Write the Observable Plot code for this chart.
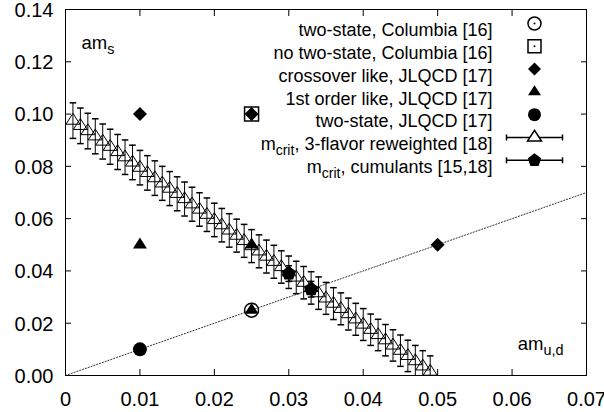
<!DOCTYPE html>
<html>
<head>
<meta charset="utf-8">
<script src="https://cdn.jsdelivr.net/npm/d3@7"></script>
<script src="https://cdn.jsdelivr.net/npm/@observablehq/plot@0.6"></script>
<style>
  html, body { margin: 0; padding: 0; background: #fff; }
</style>
</head>
<body>
<div id="chart"></div>
<script>
// Columbia [16]
const columbiaTwoStateX = [0.025];
const columbiaTwoStateY = [0.025];
const columbiaNoTwoStateX = [0.025];
const columbiaNoTwoStateY = [0.10];

// JLQCD [17]
const jlqcdCrossoverX = [0.01, 0.025, 0.05];
const jlqcdCrossoverY = [0.10, 0.10, 0.05];
const jlqcdFirstOrderX = [0.01, 0.025, 0.025];
const jlqcdFirstOrderY = [0.05, 0.05, 0.025];
const jlqcdTwoStateX = [0.01];
const jlqcdTwoStateY = [0.01];

// m_crit, 3-flavor reweighted [18]
const reweightedX = [
  0.001, 0.002, 0.003, 0.004, 0.005, 0.006, 0.007, 0.008, 0.009, 0.010,
  0.011, 0.012, 0.013, 0.014, 0.015, 0.016, 0.017, 0.018, 0.019, 0.020,
  0.021, 0.022, 0.023, 0.024, 0.025, 0.026, 0.027, 0.028, 0.029, 0.030,
  0.031, 0.032, 0.033, 0.034, 0.035, 0.036, 0.037, 0.038, 0.039, 0.040,
  0.041, 0.042, 0.043, 0.044, 0.045, 0.046, 0.047, 0.048, 0.049
];
const reweightedY = [
  0.0975, 0.0955, 0.0935, 0.0915, 0.0895, 0.0875, 0.0855, 0.0835, 0.0815, 0.0795,
  0.0775, 0.0755, 0.0735, 0.0715, 0.0695, 0.0675, 0.0655, 0.0635, 0.0615, 0.0595,
  0.0575, 0.0555, 0.0535, 0.0515, 0.0495, 0.0475, 0.0455, 0.0435, 0.0415, 0.0395,
  0.0375, 0.0355, 0.0335, 0.0315, 0.0295, 0.0275, 0.0255, 0.0235, 0.0215, 0.0195,
  0.0175, 0.0155, 0.0135, 0.0115, 0.0095, 0.0075, 0.0055, 0.0035, 0.0015
];
const reweightedErr = [
  0.0068, 0.0068, 0.0068, 0.0067, 0.0067, 0.0067, 0.0067, 0.0066, 0.0066, 0.0066,
  0.0066, 0.0066, 0.0065, 0.0065, 0.0065, 0.0065, 0.0065, 0.0064, 0.0064, 0.0064,
  0.0064, 0.0064, 0.0063, 0.0063, 0.0063, 0.0063, 0.0063, 0.0063, 0.0062, 0.0062,
  0.0062, 0.0062, 0.0062, 0.0062, 0.0061, 0.0061, 0.0061, 0.0061, 0.0061, 0.0061,
  0.0060, 0.0060, 0.0060, 0.0060, 0.0060, 0.0060, 0.0060, 0.0060, 0.0060
];

// m_crit, cumulants [15,18]
const cumulantsX = [0.030, 0.033];
const cumulantsY = [0.039, 0.033];
const cumulantsErr = [0.003, 0.003];

// m_s = m_u,d line
const symmetricLine = [0, 0.07];

// Axes
const xTicks = [0, 0.01, 0.02, 0.03, 0.04, 0.05, 0.06, 0.07];
const xTickLabels = ["0", "0.01", "0.02", "0.03", "0.04", "0.05", "0.06", "0.07"];
const yTicks = [0, 0.02, 0.04, 0.06, 0.08, 0.10, 0.12, 0.14];
const yTickLabels = ["0.00", "0.02", "0.04", "0.06", "0.08", "0.10", "0.12", "0.14"];

const legendLabels = [
  "two-state, Columbia [16]",
  "no two-state, Columbia [16]",
  "crossover like, JLQCD [17]",
  "1st order like, JLQCD [17]",
  "two-state, JLQCD [17]",
  "m_{crit}, 3-flavor reweighted [18]",
  "m_{crit}, cumulants [15,18]"
];

// ---- point symbols (gnuplot-like); r is recovered from Plot's size = r²π
const rOf = size => Math.sqrt(size / Math.PI);
const triangle = {draw(ctx, size) {
  const r = rOf(size), h = 1.55 * r;
  ctx.moveTo(0, -h * 2 / 3); ctx.lineTo(r, h / 3); ctx.lineTo(-r, h / 3); ctx.closePath();
}};
const diamond = {draw(ctx, size) {
  const r = rOf(size);
  ctx.moveTo(0, -r); ctx.lineTo(r, 0); ctx.lineTo(0, r); ctx.lineTo(-r, 0); ctx.closePath();
}};
const square = {draw(ctx, size) {
  const r = rOf(size);
  ctx.moveTo(-r, -r); ctx.lineTo(r, -r); ctx.lineTo(r, r); ctx.lineTo(-r, r); ctx.closePath();
}};
const pentagon = {draw(ctx, size) {
  const r = rOf(size);
  for (let k = 0; k < 5; ++k) {
    const a = -Math.PI / 2 + k * 2 * Math.PI / 5;
    k ? ctx.lineTo(r * Math.cos(a), r * Math.sin(a)) : ctx.moveTo(r * Math.cos(a), r * Math.sin(a));
  }
  ctx.closePath();
}};
const hline = {draw(ctx, size) { const r = rOf(size); ctx.moveTo(-r, 0); ctx.lineTo(r, 0); }};
const vline = {draw(ctx, size) { const r = rOf(size); ctx.moveTo(0, -r); ctx.lineTo(0, r); }};

const zip = (xs, ys, es) => xs.map((x, i) => ({x, y: ys[i], e: es ? es[i] : 0}));
const columbiaTwoState = zip(columbiaTwoStateX, columbiaTwoStateY);
const columbiaNoTwoState = zip(columbiaNoTwoStateX, columbiaNoTwoStateY);
const jlqcdCrossover = zip(jlqcdCrossoverX, jlqcdCrossoverY);
const jlqcdFirstOrder = zip(jlqcdFirstOrderX, jlqcdFirstOrderY);
const jlqcdTwoState = zip(jlqcdTwoStateX, jlqcdTwoStateY);
const reweighted = zip(reweightedX, reweightedY, reweightedErr);
const cumulants = zip(cumulantsX, cumulantsY, cumulantsErr);
const diagonal = symmetricLine.map(v => ({x: v, y: v}));

const black = "black";
const errorBars = (data, capR) => [
  Plot.ruleX(data, {x: "x", y1: d => d.y - d.e, y2: d => d.y + d.e, stroke: black, strokeWidth: 1, clip: true}),
  Plot.dot(data, {x: "x", y: d => d.y + d.e, symbol: hline, r: capR, stroke: black, fill: "none", clip: true}),
  Plot.dot(data, {x: "x", y: d => d.y - d.e, symbol: hline, r: capR, stroke: black, fill: "none", clip: true})
];

// Legend rows, anchored to the top-right corner of the frame
const legendTextDx = -94, legendSymDx = -52, legendTop = 14, legendStep = 22.8;
const rowDy = i => legendTop + i * legendStep;
const legendSym = (i, opts) => Plot.dot([0], {frameAnchor: "top-right", dx: legendSymDx, dy: rowDy(i), ...opts});
const legendBar = i => [
  legendSym(i, {symbol: hline, r: 28, stroke: black, fill: "none"}),
  Plot.dot([0], {frameAnchor: "top-right", dx: legendSymDx - 28, dy: rowDy(i), symbol: vline, r: 3, stroke: black, fill: "none"}),
  Plot.dot([0], {frameAnchor: "top-right", dx: legendSymDx + 28, dy: rowDy(i), symbol: vline, r: 3, stroke: black, fill: "none"})
];
const legendMarks = [
  ...legendLabels.map((label, i) => Plot.text([label], {
    text: d => d, frameAnchor: "top-right", dx: legendTextDx, dy: rowDy(i),
    textAnchor: "end", fontSize: 18
  })),
  legendSym(0, {r: 6.5, stroke: black, fill: "none"}),
  legendSym(0, {r: 1, fill: black}),
  legendSym(1, {symbol: square, r: 6.5, stroke: black, fill: "none"}),
  legendSym(1, {r: 1, fill: black}),
  legendSym(2, {symbol: diamond, r: 6.5, fill: black}),
  legendSym(3, {symbol: triangle, r: 6.5, fill: black}),
  legendSym(4, {r: 6.5, fill: black}),
  ...legendBar(5),
  legendSym(5, {symbol: triangle, r: 7, stroke: black, fill: "white"}),
  ...legendBar(6),
  legendSym(6, {symbol: pentagon, r: 7, fill: black})
];

const chart = Plot.plot({
  width: 604,
  height: 412,
  marginLeft: 65,
  marginRight: 18,
  marginTop: 9,
  marginBottom: 37,
  style: {fontFamily: "'Liberation Sans', Arial, Helvetica, sans-serif", fontSize: "20px", background: "white", color: "black"},
  x: {domain: [0, 0.07]},
  y: {domain: [0, 0.14]},
  marks: [
    // m_s = m_u,d
    Plot.line(diagonal, {x: "x", y: "y", stroke: "#333", strokeWidth: 1, strokeDasharray: "1.2,1.8", clip: true}),

    // m_crit, 3-flavor reweighted
    ...errorBars(reweighted, 3.3),
    Plot.dot(reweighted, {x: "x", y: "y", symbol: triangle, r: 7, stroke: black, strokeWidth: 1, fill: "none", clip: true}),

    // m_crit, cumulants
    ...errorBars(cumulants, 3.3),
    Plot.dot(cumulants, {x: "x", y: "y", symbol: pentagon, r: 7.5, fill: black}),

    // Columbia
    Plot.dot(columbiaTwoState, {x: "x", y: "y", r: 7, stroke: black, fill: "none"}),
    Plot.dot(columbiaTwoState, {x: "x", y: "y", r: 1, fill: black}),
    Plot.dot(columbiaNoTwoState, {x: "x", y: "y", symbol: square, r: 7, stroke: black, fill: "none"}),
    Plot.dot(columbiaNoTwoState, {x: "x", y: "y", r: 1, fill: black}),

    // JLQCD
    Plot.dot(jlqcdCrossover, {x: "x", y: "y", symbol: diamond, r: 7, fill: black}),
    Plot.dot(jlqcdFirstOrder, {x: "x", y: "y", symbol: triangle, r: 7, fill: black}),
    Plot.dot(jlqcdTwoState, {x: "x", y: "y", r: 7, fill: black}),

    // axis labels inside the frame
    Plot.text(["am_{s}"], {text: d => d, frameAnchor: "top-left", dx: 16, dy: 26, textAnchor: "start", fontSize: 18.5}),
    Plot.text(["am_{u,d}"], {text: d => d, frameAnchor: "bottom-right", dx: -23, dy: -26, textAnchor: "end", fontSize: 18.5}),

    ...legendMarks,

    // tick labels
    Plot.axisX({ticks: xTicks, tickSize: 0, tickPadding: 16, tickFormat: d => xTickLabels[xTicks.indexOf(d)], label: null}),
    Plot.axisY({ticks: yTicks, tickSize: 0, tickPadding: 12, tickFormat: d => yTickLabels[yTicks.indexOf(d)], label: null, dy: 1}),
    // inward ticks on all four sides
    Plot.axisX({ticks: xTicks, anchor: "bottom", tickSize: -6, fill: "none", label: null}),
    Plot.axisX({ticks: xTicks, anchor: "top", tickSize: -6, fill: "none", label: null}),
    Plot.axisY({ticks: yTicks, anchor: "left", tickSize: -6, fill: "none", label: null}),
    Plot.axisY({ticks: yTicks, anchor: "right", tickSize: -6, fill: "none", label: null}),
    Plot.frame({stroke: black, strokeWidth: 1})
  ]
});

// Turn "_{...}" into subscripts
const NS = "http://www.w3.org/2000/svg";
chart.querySelectorAll("text").forEach(t => {
  const s = t.textContent;
  if (!s.includes("_{")) return;
  while (t.firstChild) t.removeChild(t.firstChild);
  let shifted = false;
  for (const part of s.split(/(_\{[^}]*\})/)) {
    if (!part) continue;
    const ts = document.createElementNS(NS, "tspan");
    if (part.startsWith("_{")) {
      ts.textContent = part.slice(2, -1);
      ts.setAttribute("dy", "5");
      ts.setAttribute("font-size", "0.78em");
      shifted = true;
    } else {
      ts.textContent = part;
      if (shifted) { ts.setAttribute("dy", "-5"); shifted = false; }
    }
    t.appendChild(ts);
  }
});

document.getElementById("chart").appendChild(chart);
</script>
</body>
</html>
